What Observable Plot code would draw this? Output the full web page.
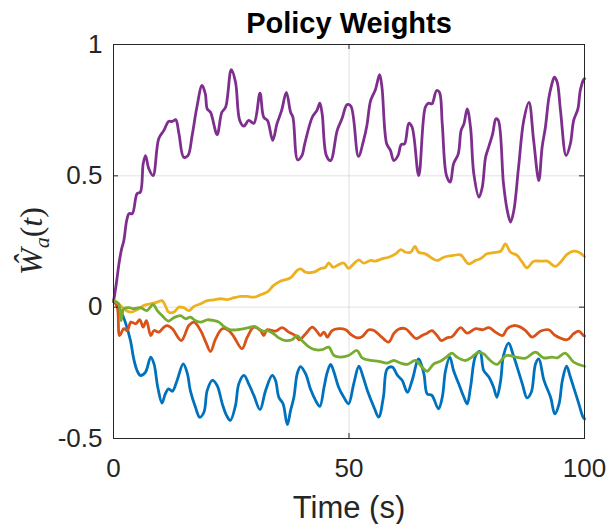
<!DOCTYPE html>
<html><head><meta charset="utf-8">
<script src="https://cdn.jsdelivr.net/npm/d3@7"></script>
<script src="https://cdn.jsdelivr.net/npm/@observablehq/plot@0.6"></script>
<style>body{margin:0;background:#fff}</style>
</head><body><div id="chart"></div>
<script>
const xTicks = [0, 50, 100];
const yTicks = [-0.5, 0, 0.5, 1];
const seriesNames = ["w1", "w2", "w3", "w4", "w5"];
const seriesColors = ["#0072BD", "#D95319", "#EDB120", "#7E2F8E", "#77AC30"];

const w1 = [[0,0.025],[1.5,-0.013],[2.5,-0.057],[3.6,-0.127],[4.3,-0.197],[5.0,-0.241],[5.7,-0.26],[6.8,-0.247],[7.9,-0.19],[8.6,-0.216],[9.4,-0.305],[10.3,-0.365],[11.0,-0.33],[11.7,-0.311],[12.5,-0.32],[13.5,-0.279],[14.8,-0.216],[15.7,-0.254],[16.3,-0.317],[17.4,-0.381],[18.3,-0.419],[19.2,-0.4],[19.9,-0.317],[21.0,-0.279],[22.0,-0.298],[23.1,-0.368],[24.0,-0.412],[24.8,-0.431],[25.9,-0.374],[26.6,-0.292],[27.7,-0.26],[28.7,-0.292],[29.8,-0.336],[31.1,-0.39],[32.3,-0.317],[33.7,-0.26],[34.4,-0.279],[35.1,-0.343],[36.0,-0.368],[36.9,-0.447],[37.6,-0.393],[38.3,-0.343],[39.0,-0.254],[39.7,-0.226],[40.8,-0.254],[41.8,-0.311],[42.9,-0.355],[43.8,-0.378],[44.7,-0.305],[45.4,-0.247],[46.1,-0.218],[46.8,-0.247],[47.8,-0.305],[48.9,-0.343],[49.9,-0.368],[51.0,-0.292],[52.1,-0.225],[53.0,-0.266],[53.9,-0.317],[55.3,-0.381],[56.3,-0.419],[57.3,-0.343],[58.1,-0.235],[59.2,-0.228],[60.3,-0.26],[61.3,-0.279],[62.4,-0.324],[63.4,-0.279],[64.8,-0.197],[65.9,-0.254],[66.6,-0.33],[67.6,-0.336],[69.0,-0.387],[69.8,-0.343],[70.5,-0.241],[71.4,-0.19],[72.2,-0.241],[73.3,-0.292],[74.4,-0.343],[75.1,-0.368],[75.8,-0.305],[76.9,-0.184],[77.8,-0.169],[78.6,-0.241],[79.7,-0.266],[80.7,-0.305],[81.4,-0.343],[82.2,-0.279],[82.8,-0.184],[83.9,-0.137],[84.8,-0.178],[85.7,-0.228],[86.8,-0.292],[87.8,-0.345],[88.7,-0.324],[89.6,-0.216],[90.3,-0.197],[91.4,-0.279],[92.8,-0.343],[93.7,-0.406],[94.6,-0.368],[95.3,-0.279],[96.2,-0.225],[97.0,-0.266],[97.9,-0.317],[98.8,-0.368],[99.7,-0.419],[100,-0.425]];

const w2 = [[0,0.025],[0.8,0.0],[1.3,-0.108],[2.2,-0.082],[2.9,-0.089],[3.7,-0.057],[4.7,-0.063],[5.6,-0.048],[6.3,-0.076],[7.0,-0.051],[7.9,-0.108],[8.6,-0.089],[9.6,-0.095],[10.7,-0.076],[11.4,-0.07],[12.5,-0.082],[14.4,-0.127],[16.0,-0.07],[17.1,-0.057],[18.5,-0.089],[19.6,-0.133],[20.6,-0.169],[21.7,-0.12],[23.1,-0.082],[24.5,-0.089],[25.6,-0.114],[27.3,-0.158],[28.4,-0.114],[29.8,-0.076],[31.2,-0.089],[31.9,-0.108],[32.6,-0.086],[34.4,-0.091],[35.8,-0.078],[37.2,-0.095],[38.6,-0.108],[39.5,-0.124],[40.8,-0.101],[42.2,-0.076],[43.3,-0.095],[43.9,-0.108],[44.7,-0.095],[45.4,-0.114],[46.4,-0.089],[47.8,-0.082],[49.3,-0.086],[50.4,-0.104],[51.8,-0.117],[52.8,-0.112],[54.2,-0.086],[55.3,-0.089],[56.6,-0.108],[58.4,-0.133],[59.5,-0.101],[60.5,-0.084],[62.0,-0.082],[63.1,-0.101],[64.3,-0.12],[65.5,-0.108],[66.6,-0.099],[67.6,-0.089],[68.7,-0.108],[69.6,-0.127],[70.8,-0.117],[71.9,-0.112],[73.7,-0.078],[75.1,-0.099],[76.9,-0.082],[78.3,-0.086],[79.7,-0.078],[81.1,-0.095],[82.6,-0.108],[83.6,-0.082],[85.0,-0.07],[86.4,-0.076],[87.5,-0.089],[88.9,-0.114],[90.7,-0.091],[92.4,-0.086],[93.8,-0.108],[96.3,-0.124],[97.7,-0.101],[98.8,-0.091],[99.8,-0.108],[100,-0.11]];

const w3 = [[0,0.025],[1.1,0.013],[2.2,-0.006],[3.6,-0.019],[5.0,-0.01],[6.4,0.006],[7.9,0.013],[9.3,0.019],[10.3,0.025],[11.0,0.006],[11.7,-0.019],[12.8,-0.019],[13.9,0.0],[14.9,-0.002],[16.0,-0.013],[17.1,0.003],[18.5,0.013],[19.9,0.025],[21.3,0.028],[22.7,0.032],[24.2,0.029],[25.6,0.036],[27.0,0.041],[28.4,0.041],[29.8,0.038],[31.2,0.047],[32.6,0.057],[34.0,0.083],[35.4,0.099],[37.6,0.112],[39.0,0.14],[39.7,0.146],[40.8,0.133],[42.5,0.133],[43.9,0.146],[45.0,0.152],[45.7,0.169],[46.6,0.152],[47.8,0.162],[48.9,0.168],[49.9,0.148],[51.0,0.165],[52.1,0.18],[53.1,0.168],[54.6,0.178],[55.6,0.175],[57.0,0.184],[58.4,0.19],[59.9,0.203],[61.0,0.219],[62.0,0.209],[63.1,0.209],[64.0,0.231],[64.8,0.209],[66.2,0.203],[68.7,0.178],[70.1,0.19],[72.2,0.197],[73.7,0.199],[75.4,0.165],[76.9,0.178],[77.9,0.184],[79.3,0.203],[80.7,0.208],[82.2,0.213],[83.2,0.241],[84.3,0.209],[85.7,0.197],[86.8,0.171],[87.8,0.15],[89.2,0.175],[90.7,0.175],[92.1,0.175],[93.8,0.155],[94.9,0.171],[96.3,0.201],[97.7,0.213],[98.8,0.209],[100,0.193]];

const w4 = [[0,0.02],[0.6,0.09],[1.2,0.17],[1.7,0.22],[2.2,0.254],[2.8,0.33],[3.3,0.356],[4.0,0.356],[5.0,0.432],[5.7,0.438],[6.3,0.546],[6.8,0.577],[7.5,0.527],[8.4,0.501],[9.6,0.641],[10.7,0.673],[11.7,0.707],[12.5,0.707],[13.2,0.714],[13.9,0.66],[14.9,0.571],[15.8,0.577],[16.7,0.654],[17.7,0.761],[18.8,0.844],[19.5,0.812],[19.9,0.755],[20.6,0.742],[22.0,0.657],[23.0,0.742],[23.8,0.761],[25.0,0.904],[25.9,0.857],[26.8,0.711],[27.7,0.689],[28.7,0.711],[29.8,0.7],[31.1,0.815],[31.9,0.723],[32.7,0.711],[33.8,0.635],[34.7,0.698],[35.7,0.749],[36.7,0.818],[37.6,0.742],[38.1,0.723],[39.1,0.561],[40.0,0.577],[40.6,0.622],[42.2,0.723],[43.2,0.749],[43.8,0.777],[44.3,0.736],[45.2,0.577],[46.1,0.558],[47.5,0.673],[48.5,0.717],[49.6,0.771],[50.4,0.765],[52.0,0.574],[53.1,0.635],[53.8,0.692],[54.6,0.787],[55.6,0.828],[56.5,0.885],[57.0,0.837],[58.0,0.622],[58.8,0.597],[59.5,0.558],[60.4,0.577],[61.1,0.619],[61.8,0.622],[62.7,0.7],[63.4,0.685],[64.8,0.501],[66.2,0.761],[66.9,0.777],[67.6,0.774],[68.6,0.825],[69.2,0.818],[69.8,0.698],[70.7,0.501],[71.5,0.476],[72.2,0.546],[73.2,0.584],[73.8,0.673],[74.4,0.698],[75.1,0.755],[75.8,0.685],[76.5,0.508],[77.6,0.419],[78.3,0.457],[79.0,0.571],[79.7,0.612],[80.5,0.66],[81.2,0.717],[81.7,0.711],[82.8,0.47],[83.6,0.368],[84.3,0.324],[85.0,0.368],[86.0,0.533],[87.1,0.711],[88.2,0.78],[89.2,0.635],[90.3,0.482],[91.0,0.609],[91.7,0.685],[92.4,0.793],[93.0,0.844],[93.6,0.876],[94.2,0.857],[94.9,0.749],[96.1,0.577],[97.0,0.622],[97.7,0.711],[98.6,0.755],[99.1,0.825],[99.8,0.866],[100,0.87]];

const w5 = [[0,0.025],[1.1,0.013],[1.6,-0.051],[2.2,-0.006],[3.3,-0.002],[4.3,-0.006],[5.7,-0.002],[7.1,-0.013],[8.4,0.01],[9.3,-0.013],[10.3,-0.032],[11.7,-0.053],[12.8,-0.04],[14.2,-0.032],[15.3,-0.044],[16.3,-0.038],[17.4,-0.051],[18.5,-0.057],[19.9,-0.048],[21.3,-0.051],[22.4,-0.057],[23.4,-0.073],[24.8,-0.086],[26.3,-0.086],[27.7,-0.082],[28.7,-0.078],[29.9,-0.073],[30.8,-0.082],[31.9,-0.092],[32.6,-0.089],[34.0,-0.101],[35.1,-0.117],[36.5,-0.127],[37.9,-0.124],[39.0,-0.108],[40.0,-0.127],[41.4,-0.15],[42.8,-0.162],[44.3,-0.162],[45.7,-0.152],[46.8,-0.184],[48.2,-0.19],[49.9,-0.184],[51.7,-0.165],[52.8,-0.193],[54.6,-0.203],[56.3,-0.206],[58.1,-0.213],[59.5,-0.203],[61.0,-0.213],[62.4,-0.218],[64.1,-0.203],[65.5,-0.228],[66.6,-0.244],[68.0,-0.216],[69.4,-0.206],[70.8,-0.188],[71.9,-0.175],[72.9,-0.19],[74.7,-0.203],[76.1,-0.19],[77.5,-0.171],[78.6,-0.178],[80.0,-0.203],[81.4,-0.218],[83.4,-0.184],[85.4,-0.19],[87.5,-0.194],[89.6,-0.171],[91.3,-0.193],[93.1,-0.19],[94.2,-0.193],[95.9,-0.175],[97.7,-0.209],[100,-0.225]];

const data = [w1, w2, w3, w4, w5].flatMap((s, i) => s.map(([t, v]) => ({t, v, series: seriesNames[i]})));

const W = 614, H = 524, mL = 113, mR = 30, mT = 44, mB = 86;
const fw = W - mL - mR, fh = H - mT - mB;
const ink = "#262626";

const chart = Plot.plot({
  width: W, height: H,
  marginLeft: mL, marginRight: mR, marginTop: mT, marginBottom: mB,
  style: {fontFamily: "'Liberation Sans', Arial, Helvetica, sans-serif", background: "#fff"},
  x: {domain: [0, 100]},
  y: {domain: [-0.5, 1]},
  color: {domain: seriesNames, range: seriesColors},
  marks: [
    Plot.gridX(xTicks, {stroke: "#000", strokeOpacity: 0.12}),
    Plot.gridY(yTicks, {stroke: "#000", strokeOpacity: 0.12}),
    Plot.line(data, {x: "t", y: "v", z: "series", stroke: "series", strokeWidth: 2.8, curve: "catmull-rom"}),
    Plot.tickX(xTicks, {x: d => d, insetTop: fh - 5, stroke: ink}),
    Plot.tickX(xTicks, {x: d => d, insetBottom: fh - 5, stroke: ink}),
    Plot.tickY(yTicks, {y: d => d, insetRight: fw - 5, stroke: ink}),
    Plot.tickY(yTicks, {y: d => d, insetLeft: fw - 5, stroke: ink}),
    Plot.frame({stroke: ink}),
    Plot.axisX(xTicks, {tickSize: 0, tickPadding: 20, fontSize: 26, label: null, fill: ink}),
    Plot.axisY(yTicks, {tickSize: 0, tickPadding: 11, fontSize: 26, label: null, fill: ink, tickFormat: d => String(d)}),
    Plot.text(["Policy Weights"], {text: d => d, frameAnchor: "top", lineAnchor: "middle", dy: -21, fontSize: 29, fontWeight: "bold", fill: "#000"}),
    Plot.text(["Time (s)"], {text: d => d, frameAnchor: "bottom", lineAnchor: "middle", dy: 70, fontSize: 31, fill: ink})
  ]
});
document.getElementById("chart").appendChild(chart);

// y-axis label with hat and subscript
const ys = chart.scale("y");
const cy = (ys.apply(-0.5) + ys.apply(1)) / 2;
const lab = d3.select(chart).append("text")
  .attr("transform", `translate(42,${cy}) rotate(-90)`)
  .attr("text-anchor", "middle")
  .attr("font-family", "'Liberation Serif', 'DejaVu Serif', serif")
  .attr("font-size", 32)
  .attr("fill", ink);
lab.append("tspan").attr("font-style", "italic").text("Ŵ");
lab.append("tspan").attr("font-style", "italic").attr("font-size", 22).attr("dy", 7).text("a");
lab.append("tspan").attr("dy", -7).text("(");
lab.append("tspan").attr("font-style", "italic").text("t");
lab.append("tspan").text(")");
</script>
</body></html>
